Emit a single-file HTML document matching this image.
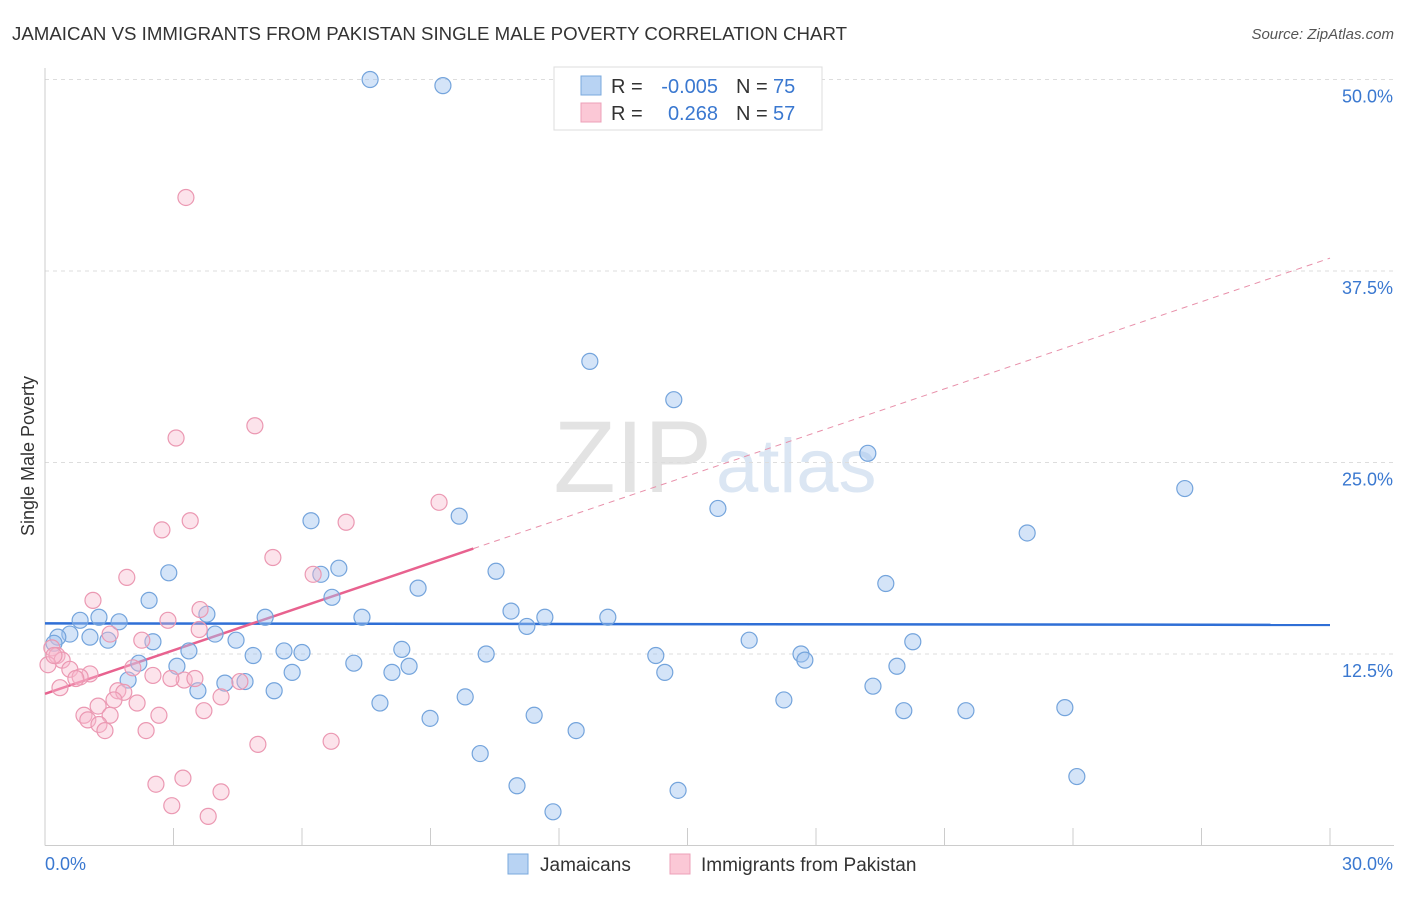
<!DOCTYPE html>
<html><head><meta charset="utf-8"><style>
body{margin:0;background:#fff;font-family:"Liberation Sans",sans-serif;}
svg text{font-family:"Liberation Sans",sans-serif;}
</style></head><body>
<svg id="chart" width="1406" height="892" xmlns="http://www.w3.org/2000/svg">
<text x="12" y="40" font-size="18" fill="#333" textLength="835" lengthAdjust="spacingAndGlyphs">JAMAICAN VS IMMIGRANTS FROM PAKISTAN SINGLE MALE POVERTY CORRELATION CHART</text>
<text x="1394" y="39" font-size="15" fill="#555" text-anchor="end" font-style="italic">Source: ZipAtlas.com</text>
<text x="712" y="492" font-size="102" fill="#e3e3e3" text-anchor="end" font-family="Liberation Serif">ZIP</text>
<text x="716" y="492" font-size="76" fill="#dbe6f3">atlas</text>
<g id="grid"></g><g id="axes"></g><g id="lines"></g><g id="pts"></g>
<text transform="translate(34,456) rotate(-90)" font-size="18" fill="#333" text-anchor="middle">Single Male Poverty</text>
<g>
<rect x="554" y="67" width="268" height="63" fill="#fff" stroke="#ddd"/>
<rect x="581" y="76" width="20" height="19" fill="#b8d3f3" stroke="#7aa8dd"/>
<rect x="581" y="103" width="20" height="19" fill="#fbc8d6" stroke="#eca0b8"/>
<text x="611" y="93" font-size="20" fill="#333">R =</text>
<text x="718" y="93" font-size="20" fill="#3a78d0" text-anchor="end">-0.005</text>
<text x="736" y="93" font-size="20" fill="#333">N =</text>
<text x="773" y="93" font-size="20" fill="#3a78d0">75</text>
<text x="611" y="120" font-size="20" fill="#333">R =</text>
<text x="718" y="120" font-size="20" fill="#3a78d0" text-anchor="end">0.268</text>
<text x="736" y="120" font-size="20" fill="#333">N =</text>
<text x="773" y="120" font-size="20" fill="#3a78d0">57</text>
</g>
<g>
<rect x="508" y="854" width="20" height="20" fill="#b8d3f3" stroke="#7aa8dd"/>
<text x="540" y="871" font-size="19" fill="#333">Jamaicans</text>
<rect x="670" y="854" width="20" height="20" fill="#fbc8d6" stroke="#eca0b8"/>
<text x="701" y="871" font-size="19" fill="#333">Immigrants from Pakistan</text>
</g>
</svg>
<script>
const yTicks=[12.5,25,37.5,50];
const yTickLabels=["12.5%","25.0%","37.5%","50.0%"];
const xTicks=[0,3,6,9,12,15,18,21,24,27,30];
const jamX=[7.59,9.29,12.72,14.68,19.21,26.61,15.71,9.67,6.21,22.93,2.89,10.53,6.44,6.86,19.63,8.71,6.70,2.43,3.78,0.82,1.26,1.73,5.14,7.40,10.88,11.67,13.14,11.25,0.58,1.05,1.47,0.30,3.97,4.46,16.44,20.26,0.21,2.52,3.36,5.58,6.00,8.33,4.86,10.30,14.26,17.65,17.74,2.19,3.08,7.21,8.50,19.89,5.77,8.10,14.47,1.94,3.57,4.20,4.67,5.35,19.33,9.81,7.82,17.25,20.05,21.50,23.81,8.99,11.42,12.40,10.16,24.09,11.02,14.78,11.86];
const jamY=[50.0,49.6,31.6,29.1,25.6,23.3,22.0,21.5,21.2,20.4,17.8,17.9,17.7,18.1,17.1,16.8,16.2,16.0,15.1,14.7,14.9,14.6,14.9,14.9,15.3,14.9,14.9,14.3,13.8,13.6,13.4,13.6,13.8,13.4,13.4,13.3,13.2,13.3,12.7,12.7,12.6,12.8,12.4,12.5,12.4,12.5,12.1,11.9,11.7,11.9,11.7,11.7,11.3,11.3,11.3,10.8,10.1,10.6,10.7,10.1,10.4,9.7,9.3,9.5,8.8,8.8,9.0,8.3,8.5,7.5,6.0,4.5,3.9,3.6,2.2];
const pakX=[3.29,4.90,3.06,9.20,3.39,7.03,2.73,5.32,6.26,1.91,1.12,3.62,2.87,3.60,1.52,2.26,0.16,0.28,0.40,0.07,0.58,1.05,0.82,0.72,2.05,2.52,3.25,3.50,2.94,0.35,1.70,1.84,1.24,1.61,4.11,2.15,3.71,0.91,1.00,1.52,1.26,1.40,2.66,2.36,4.97,6.68,2.59,3.22,4.11,2.96,3.81,0.21,4.55];
const pakY=[42.3,27.4,26.6,22.4,21.2,21.1,20.6,18.8,17.7,17.5,16.0,15.4,14.7,14.1,13.8,13.4,12.9,12.4,12.1,11.8,11.5,11.2,11.0,10.9,11.6,11.1,10.8,10.9,10.9,10.3,10.1,10.0,9.1,9.5,9.7,9.3,8.8,8.5,8.2,8.5,7.9,7.5,8.5,7.5,6.6,6.8,4.0,4.4,3.5,2.6,1.9,12.4,10.7];
const jamLine=[14.5,14.4];
const pakLine=[9.9,0.948];
const NS="http://www.w3.org/2000/svg";
const X=v=>45+v/30*1285, Y=v=>845.5-v*15.32;
function mk(t,a,p){const e=document.createElementNS(NS,t);for(const k in a)e.setAttribute(k,a[k]);document.getElementById(p).appendChild(e);return e;}
yTicks.forEach((t,i)=>{
 const l=mk('line',{x1:45,x2:1394,y1:Y(t),y2:Y(t),stroke:'#ddd','stroke-dasharray':'4,4'},'grid');
 
 
 const tx=mk('text',{x:1393,y:Y(t)+23,'font-size':18,fill:'#3a78d0','text-anchor':'end'},'axes');
 tx.textContent=yTickLabels[i];
 
 
});
const ax=mk('line',{x1:45,x2:1394,y1:845.5,y2:845.5,stroke:'#ccc'},'axes');


const ay=mk('line',{x1:45,x2:45,y1:68,y2:845.5,stroke:'#ccc'},'axes');


xTicks.forEach(t=>{const l=mk('line',{x1:X(t),x2:X(t),y1:828,y2:845.5,stroke:'#ccc'},'axes');
 
 });
const x0=mk('text',{x:45,y:870,'font-size':18,fill:'#3a78d0'},'axes');x0.textContent='0.0%';


const x1=mk('text',{x:1393,y:870,'font-size':18,fill:'#3a78d0','text-anchor':'end'},'axes');x1.textContent='30.0%';


jamX.forEach((v,i)=>{const c=mk('circle',{cx:X(v),cy:Y(jamY[i]),r:8,fill:'rgba(160,196,240,0.45)',stroke:'#74a4dc','stroke-width':1.2},'pts');
 
 });
pakX.forEach((v,i)=>{const c=mk('circle',{cx:X(v),cy:Y(pakY[i]),r:8,fill:'rgba(248,184,204,0.4)',stroke:'#eb98b2','stroke-width':1.2},'pts');
 
 });
const bl=mk('line',{x1:X(0),x2:X(30),y1:Y(jamLine[0]),y2:Y(jamLine[1]),stroke:'#2f6fd6','stroke-width':2.5},'lines');


const pf=v=>pakLine[0]+pakLine[1]*v;
const ps=mk('line',{x1:X(0),x2:X(10),y1:Y(pf(0)),y2:Y(pf(10)),stroke:'#e8628f','stroke-width':2.5},'lines');


const pd=mk('line',{x1:X(10),x2:X(30),y1:Y(pf(10)),y2:Y(pf(30)),stroke:'#e890aa','stroke-width':1,'stroke-dasharray':'6,5'},'lines');


</script>
</body></html>
